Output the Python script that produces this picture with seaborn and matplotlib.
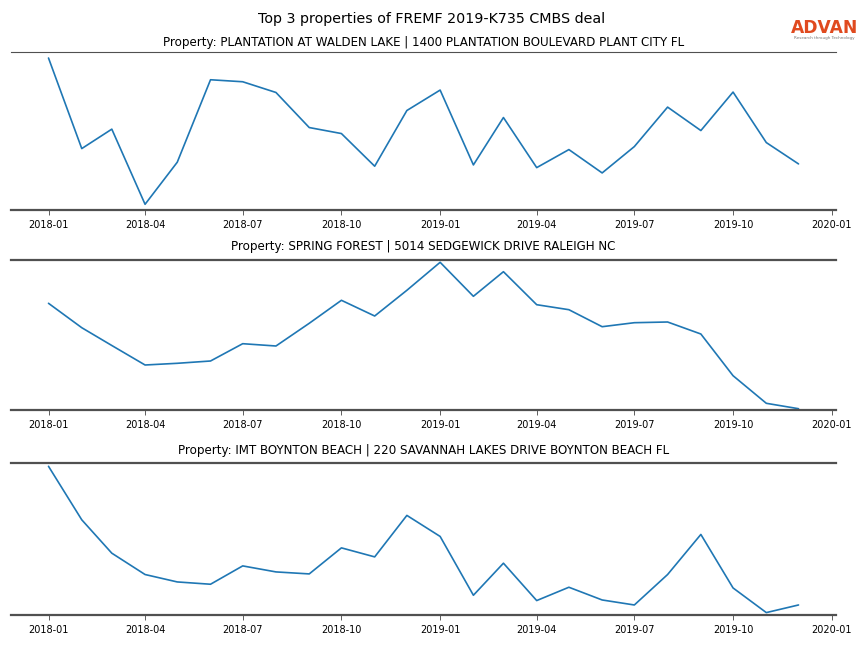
import pandas as pd
import numpy as np
import matplotlib
matplotlib.use("Agg")
import matplotlib.pyplot as plt
import seaborn as sns

# monthly visits (arbitrary units, y axis hidden in the original)
months = pd.date_range("2018-01-01", "2019-12-01", freq="MS")

walden_lake = [1517, 613, 807, 57, 477, 1300, 1280, 1173, 823, 763, 437, 993,
               1197, 450, 923, 423, 603, 370, 633, 1027, 793, 1177, 673, 460]
spring_forest = [1067, 823, 645, 450, 467, 490, 663, 640, 867, 1097, 940, 1197,
                 1477, 1137, 1383, 1053, 1003, 833, 873, 880, 760, 343, 67, 13]
boynton_beach = [1484, 950, 617, 404, 330, 307, 490, 430, 410, 670, 580, 994,
                 784, 197, 517, 144, 277, 150, 100, 404, 804, 270, 24, 100]

titles = [
    "Property: PLANTATION AT WALDEN LAKE | 1400 PLANTATION BOULEVARD PLANT CITY FL",
    "Property: SPRING FOREST | 5014 SEDGEWICK DRIVE RALEIGH NC",
    "Property: IMT BOYNTON BEACH | 220 SAVANNAH LAKES DRIVE BOYNTON BEACH FL",
]
series = [walden_lake, spring_forest, boynton_beach]
y_tops = [1577, 1500, 1517]

sns.set_style("white")
plt.rcParams['font.family'] = ['DejaVu Sans']
plt.rcParams['text.color'] = 'black'
plt.rcParams['xtick.color'] = 'black'

fig = plt.figure(figsize=(8.64, 6.48), dpi=100)
W, H = 864, 648
# axes boxes in pixels: (top, bottom)
boxes = [(52, 210), (260, 410), (463, 615)]
pads = [4.5, 7.5, 6.5]
left_px, right_px = 11, 836

for i, (vals, title, ytop) in enumerate(zip(series, titles, y_tops)):
    top, bot = boxes[i]
    ax = fig.add_axes([left_px / W, 1 - bot / H, (right_px - left_px) / W, (bot - top) / H])
    df = pd.DataFrame({"month": months, "visits": vals})
    sns.lineplot(data=df, x="month", y="visits", ax=ax, color="#1f77b4", linewidth=1.2)
    ax.set_ylim(0, ytop)
    ax.set_yticks([])
    ax.set_xlabel("")
    ax.set_ylabel("")
    ax.set_xticks(pd.date_range("2018-01-01", "2020-01-01", freq="3MS"))
    ax.xaxis.set_major_formatter(matplotlib.dates.DateFormatter("%Y-%m"))
    ax.tick_params(axis="x", labelsize=7, length=3.5, width=0.6, color="#444444",
                   labelcolor="black", bottom=True)
    ax.set_title(title, fontsize=8.6, pad=pads[i], color="black")
    for side in ["left", "right"]:
        ax.spines[side].set_visible(False)
    ax.spines["bottom"].set_color("#505050")
    ax.spines["bottom"].set_linewidth(1.6)
    ax.spines["top"].set_color("#505050")
    ax.spines["top"].set_linewidth(0.8 if i == 0 else 1.6)

fig.suptitle("Top 3 properties of FREMF 2019-K735 CMBS deal", fontsize=10.3,
             y=0.982, color="black")

# logo
fig.text(824.5 / W, 1 - 28 / H, "ADVAN", color="#e04a1f", fontsize=12.3,
         ha="center", va="center", fontweight="semibold")
fig.text(824.5 / W, 1 - 38.5 / H, "Research through Technology", color="#777777",
         fontsize=3, ha="center", va="center")

fig.savefig("out.png", dpi=100)
